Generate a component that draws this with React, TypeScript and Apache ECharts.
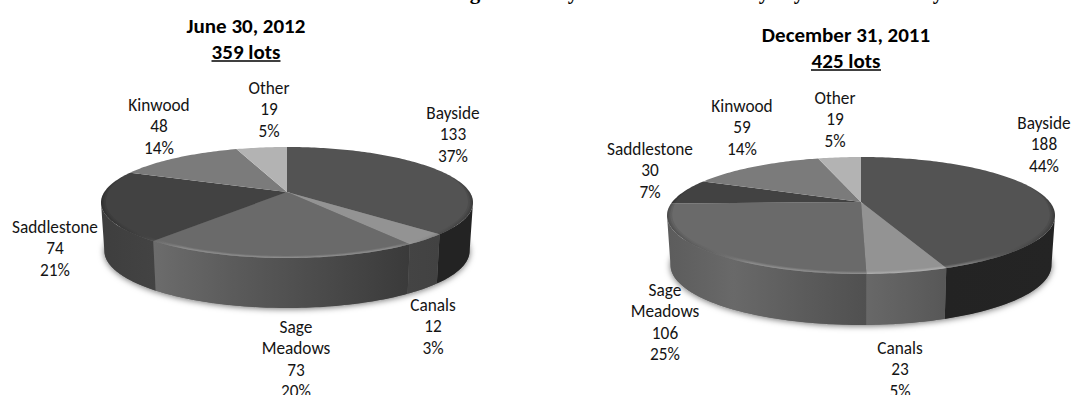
import React, { useEffect, useRef } from "react";
import * as echarts from "echarts";

// Lots per community at each balance-sheet date
const communities = ["Bayside", "Canals", "Sage Meadows", "Saddlestone", "Kinwood", "Other"];
const lotsJune2012 = [133, 12, 73, 74, 48, 19];
const lotsDec2011 = [188, 23, 106, 30, 59, 19];
const percentJune2012 = [37, 3, 20, 21, 14, 5];
const percentDec2011 = [44, 5, 25, 7, 14, 5];

const FONT = "Carlito, Lato, 'Noto Sans', sans-serif";

// Face colours by community, shared by both pies
const topColors = ["#535353", "#939393", "#6a6a6a", "#424242", "#7b7b7b", "#b3b3b3"];

type PieLayout = {
  cx: number; apexY: number; rimBack: number; rimFront: number; halfWidth: number; depth: number;
  sides: string[][];
  anchors: number[][];
};

const juneLayout: PieLayout = {
  cx: 287, apexY: 192, rimBack: 147, rimFront: 258, halfWidth: 186, depth: 48,
  sides: [
    ["#232323", "#232323"], ["#444444", "#424242"], ["#6c6c6c", "#5a5a5a", "#4a4a4a", "#3a3a3a"],
    ["#3e3e3e", "#434343"], ["#555555", "#555555"], ["#777777", "#777777"],
  ],
  anchors: [[453, 103], [433, 295], [296, 317], [55, 217], [159, 95], [269, 78]],
};

const decLayout: PieLayout = {
  cx: 861, apexY: 202, rimBack: 157, rimFront: 274, halfWidth: 194, depth: 49,
  sides: [
    ["#232323", "#242424"], ["#686868", "#575757"], ["#5c5c5c", "#696969", "#5c5c5c", "#505050"],
    ["#3e3e3e", "#3e3e3e"], ["#555555", "#555555"], ["#777777", "#777777"],
  ],
  anchors: [[1044, 113], [900, 338], [665, 280], [650, 139], [742, 96], [835, 88]],
};

// Projects a point of the disc's rim onto the tilted, foreshortened view of the pie
function makeProjector(l: PieLayout) {
  const front = l.rimFront - l.apexY;
  const back = l.apexY - l.rimBack;
  const k = (front - back) / (front + back);
  const b = front * (1 - k);
  const a = l.halfWidth * Math.sqrt(1 - k * k);
  const top = (theta: number, r = 1) => {
    const u = Math.sin(theta) * r;
    const v = -Math.cos(theta) * r;
    const w = 1 / (1 - k * v);
    return [l.cx + a * u * w, l.apexY + b * v * w];
  };
  const bottom = (theta: number) => {
    const p = top(theta);
    const v = -Math.cos(theta);
    return [l.cx + (p[0] - l.cx) * 0.982, p[1] + l.depth + 2 * v];
  };
  return { top, bottom, k };
}

function samples(from: number, to: number) {
  const n = Math.max(2, Math.ceil((to - from) / 0.02));
  return Array.from({ length: n + 1 }, (_, i) => from + ((to - from) * i) / n);
}

function evenStops(colors: string[]) {
  return colors.map((color, i) => ({ offset: i / (colors.length - 1), color }));
}

function pieSeries(values: number[], percents: number[], l: PieLayout) {
  const total = values.reduce((s, v) => s + v, 0);
  const proj = makeProjector(l);
  const edge = Math.acos(-proj.k);
  const rimStart = edge - 0.7;
  const rimEnd = Math.PI * 2 - rimStart;
  const rimGradient = new echarts.graphic.LinearGradient(
    l.cx - l.halfWidth, 0, l.cx + l.halfWidth, 0,
    [
      { offset: 0, color: "rgba(0,0,0,0.1)" },
      { offset: 0.07, color: "rgba(0,0,0,0.04)" },
      { offset: 0.22, color: "rgba(255,255,255,0.09)" },
      { offset: 0.78, color: "rgba(255,255,255,0.09)" },
      { offset: 0.93, color: "rgba(0,0,0,0.04)" },
      { offset: 1, color: "rgba(0,0,0,0.1)" },
    ],
    true
  );
  // Rim width tapers to nothing where the bevel fades out towards the back
  const rimInset = (t: number, width: number) =>
    1 - width * Math.min(1, Math.min(t - rimStart, rimEnd - t) / 0.6);

  return {
    type: "custom",
    coordinateSystem: "none",
    silent: true,
    data: values.map((v, i) => ({ name: communities[i], value: [v] })),
    renderItem: (params: any, api: any) => {
      const i = params.dataIndex;
      const before = values.slice(0, i).reduce((s, v) => s + v, 0);
      const start = (before / total) * Math.PI * 2;
      const end = ((before + api.value(0)) / total) * Math.PI * 2;
      const children: any[] = [];

      // Soft shadow around the whole drum, laid down first
      if (i === 0) {
        const ring = samples(0, Math.PI * 2).map((t) => proj.bottom(t));
        children.push({
          type: "polygon",
          shape: { points: ring },
          style: { fill: "#777", shadowBlur: 6, shadowColor: "rgba(0,0,0,0.55)", shadowOffsetY: 1 },
        });
      }

      // Outer wall: only the part of the arc that faces the viewer
      const a0 = Math.max(start, edge);
      const a1 = Math.min(end, Math.PI * 2 - edge);
      if (a1 > a0) {
        const arc = samples(a0, a1);
        children.push({
          type: "polygon",
          shape: { points: [...arc.map((t) => proj.top(t)), ...arc.slice().reverse().map((t) => proj.bottom(t))] },
          style: { fill: new echarts.graphic.LinearGradient(0, 0, 1, 0, evenStops(l.sides[i])) },
        });
      }

      // Top face
      const arcTop = samples(start, end).map((t) => proj.top(t));
      children.push({
        type: "polygon",
        shape: { points: [proj.top(0, 0), ...arcTop] },
        style: { fill: topColors[i] },
      });

      // Rounded rim along the front of the top face, built from stacked soft bands
      const r0 = Math.max(start, rimStart);
      const r1 = Math.min(end, rimEnd);
      if (r1 > r0) {
        const arc = samples(r0, r1);
        [0.008, 0.016, 0.026].forEach((width) => {
          children.push({
            type: "polygon",
            shape: {
              points: [
                ...arc.map((t) => proj.top(t)),
                ...arc.slice().reverse().map((t) => proj.top(t, rimInset(t, width))),
              ],
            },
            style: { fill: rimGradient },
          });
        });
      }

      // Community, lot count and share
      const [lx, ly] = l.anchors[i];
      children.push({
        type: "text",
        style: {
          text: `${communities[i].replace(" ", "\n")}\n${api.value(0)}\n${percents[i]}%`,
          x: lx,
          y: ly,
          align: "center",
          verticalAlign: "top",
          lineHeight: 21.3,
          fontFamily: FONT,
          fontSize: 17.3,
          fill: "#141414",
        },
      });

      return { type: "group", children };
    },
  };
}

function heading(x: number, y: number, date: string, lots: string, underlineWidth: number) {
  const textStyle = { x, align: "center", verticalAlign: "middle", fontFamily: FONT, fontWeight: "bold", fontSize: 21, fill: "#000" };
  return [
    { type: "text", style: { ...textStyle, text: date, y } },
    { type: "text", style: { ...textStyle, text: lots, y: y + 26 } },
    { type: "line", shape: { x1: x - underlineWidth / 2, y1: y + 35, x2: x + underlineWidth / 2, y2: y + 35 }, style: { stroke: "#000", lineWidth: 1.6 } },
  ];
}

// Descenders of the page heading that runs off the top edge
const descenders: [string, number][] = [["g", 475], ["y", 573], ["y", 764], ["y", 799], ["y", 938]];

export default function App() {
  const ref = useRef<HTMLDivElement>(null);

  useEffect(() => {
    document.body.style.margin = "0";
    const chart = echarts.init(ref.current!, undefined, { renderer: "svg" });
    chart.setOption({
      animation: false,
      backgroundColor: "#fff",
      series: [
        pieSeries(lotsJune2012, percentJune2012, juneLayout),
        pieSeries(lotsDec2011, percentDec2011, decLayout),
      ],
      graphic: [
        ...heading(246, 26, "June 30, 2012", "359 lots", 69),
        ...heading(846, 35, "December 31, 2011", "425 lots", 70),
        ...descenders.map(([t, x]) => ({
          type: "text",
          style: { text: t, x, y: 2, align: "center", verticalAlign: "bottom", fontFamily: "'Liberation Serif', serif", fontWeight: "bold", fontSize: 21, fill: "#000" },
        })),
      ],
    });
    return () => chart.dispose();
  }, []);

  return <div ref={ref} style={{ width: 1071, height: 395 }} />;
}
